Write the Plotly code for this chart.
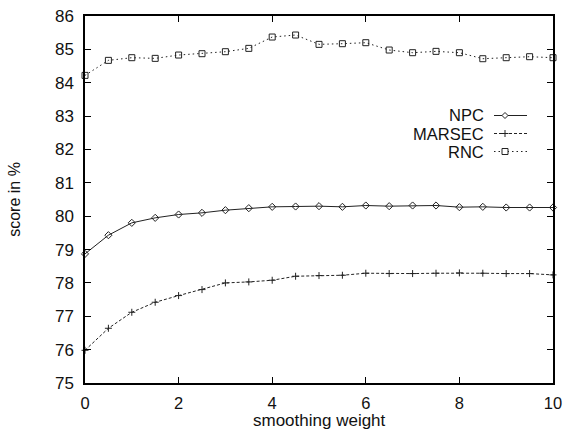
import plotly.graph_objects as go

weights = [0, 0.5, 1, 1.5, 2, 2.5, 3, 3.5, 4, 4.5, 5, 5.5, 6, 6.5, 7, 7.5, 8, 8.5, 9, 9.5, 10]
npc = [78.87, 79.43, 79.80, 79.95, 80.05, 80.10, 80.18, 80.24, 80.28, 80.29, 80.30,
       80.28, 80.32, 80.30, 80.32, 80.32, 80.27, 80.28, 80.26, 80.26, 80.26]
marsec = [75.98, 76.64, 77.12, 77.42, 77.62, 77.80, 78.00, 78.03, 78.08, 78.20, 78.22,
          78.23, 78.29, 78.28, 78.28, 78.29, 78.30, 78.29, 78.28, 78.28, 78.24]
rnc = [84.22, 84.67, 84.75, 84.73, 84.83, 84.87, 84.93, 85.03, 85.37, 85.43, 85.15,
       85.17, 85.20, 84.98, 84.90, 84.94, 84.90, 84.72, 84.75, 84.78, 84.75]

names = ["NPC", "MARSEC", "RNC"]
series = [npc, marsec, rnc]
dashes = ["solid", "3px,2px", "1.5px,3px"]
symbols = ["diamond-open", "cross-thin", "square-open"]
sizes = [5.5, 5, 6]

FONT = "Liberation Sans, Arial, Helvetica, sans-serif"
fig = go.Figure()
for n, s, d, sym, sz in zip(names, series, dashes, symbols, sizes):
    fig.add_trace(go.Scatter(
        x=weights, y=s, name=n, mode="lines+markers",
        line=dict(color="#222", width=1, dash=d),
        marker=dict(symbol=sym, size=sz, color="#222",
                    line=dict(color="#222", width=1)),
        showlegend=False, cliponaxis=False))

L, R, top, bottom = 85, 553, 16, 383
def px(x):
    return (x - L) / (R - L)
def py(y):
    return 1 - (y - top) / (bottom - top)

# custom legend: right-aligned labels with line samples to the right
leg_y = [115.5, 133.5, 151.5]
for i, (n, d) in enumerate(zip(names, dashes)):
    yp = py(leg_y[i])
    fig.add_annotation(x=px(483), y=yp, xref="paper", yref="paper",
                       text=n, showarrow=False, xanchor="right", yanchor="middle",
                       xshift=2, borderpad=0, font=dict(family=FONT, size=16.5, color="#111"))
    fig.add_shape(type="line", x0=px(494), x1=px(527), y0=yp, y1=yp, xref="paper", yref="paper",
                  line=dict(color="#222", width=1, dash=d))
    xm = px(505)
    if i == 0:
        fig.add_shape(type="path", xref="paper", yref="paper", xsizemode="pixel", ysizemode="pixel",
                      xanchor=xm, yanchor=yp, path="M -3 0 L 0 3 L 3 0 L 0 -3 Z",
                      line=dict(color="#222", width=1), fillcolor="white")
    elif i == 1:
        fig.add_shape(type="path", xref="paper", yref="paper", xsizemode="pixel", ysizemode="pixel",
                      xanchor=xm, yanchor=yp, path="M -3.5 0 L 3.5 0 M 0 -3.5 L 0 3.5",
                      line=dict(color="#222", width=1))
    else:
        fig.add_shape(type="path", xref="paper", yref="paper", xsizemode="pixel", ysizemode="pixel",
                      xanchor=xm, yanchor=yp, path="M -3 -3 L 3 -3 L 3 3 L -3 3 Z",
                      line=dict(color="#222", width=1), fillcolor="white")

# x-axis title as annotation, placed just below tick labels
fig.add_annotation(x=0.5, y=py(410), xref="paper", yref="paper", text="smoothing weight",
                   showarrow=False, xanchor="center", yanchor="top", borderpad=0,
                   font=dict(family=FONT, size=17, color="#111"))

axis_common = dict(showgrid=False, zeroline=False, showline=True, linecolor="black", linewidth=1.5,
                   mirror="ticks", ticks="inside", ticklen=6, tickcolor="black", tickwidth=1,
                   automargin=False)
fig.update_xaxes(range=[0, 10], tickvals=[0, 2, 4, 6, 8, 10], ticklabelstandoff=4,
                 tickfont=dict(family=FONT, size=16.5, color="#111"), **axis_common)
fig.update_yaxes(range=[75, 86], tickvals=list(range(75, 87)), ticklabelstandoff=6,
                 tickfont=dict(family=FONT, size=17, color="#111"),
                 title=dict(text="score in %", font=dict(family=FONT, size=16, color="#111"), standoff=30),
                 **axis_common)
fig.update_layout(width=564, height=431, margin=dict(l=85, r=11, t=16, b=48),
                  plot_bgcolor="white", paper_bgcolor="white",
                  font=dict(family=FONT))
fig.write_html("out.html")
